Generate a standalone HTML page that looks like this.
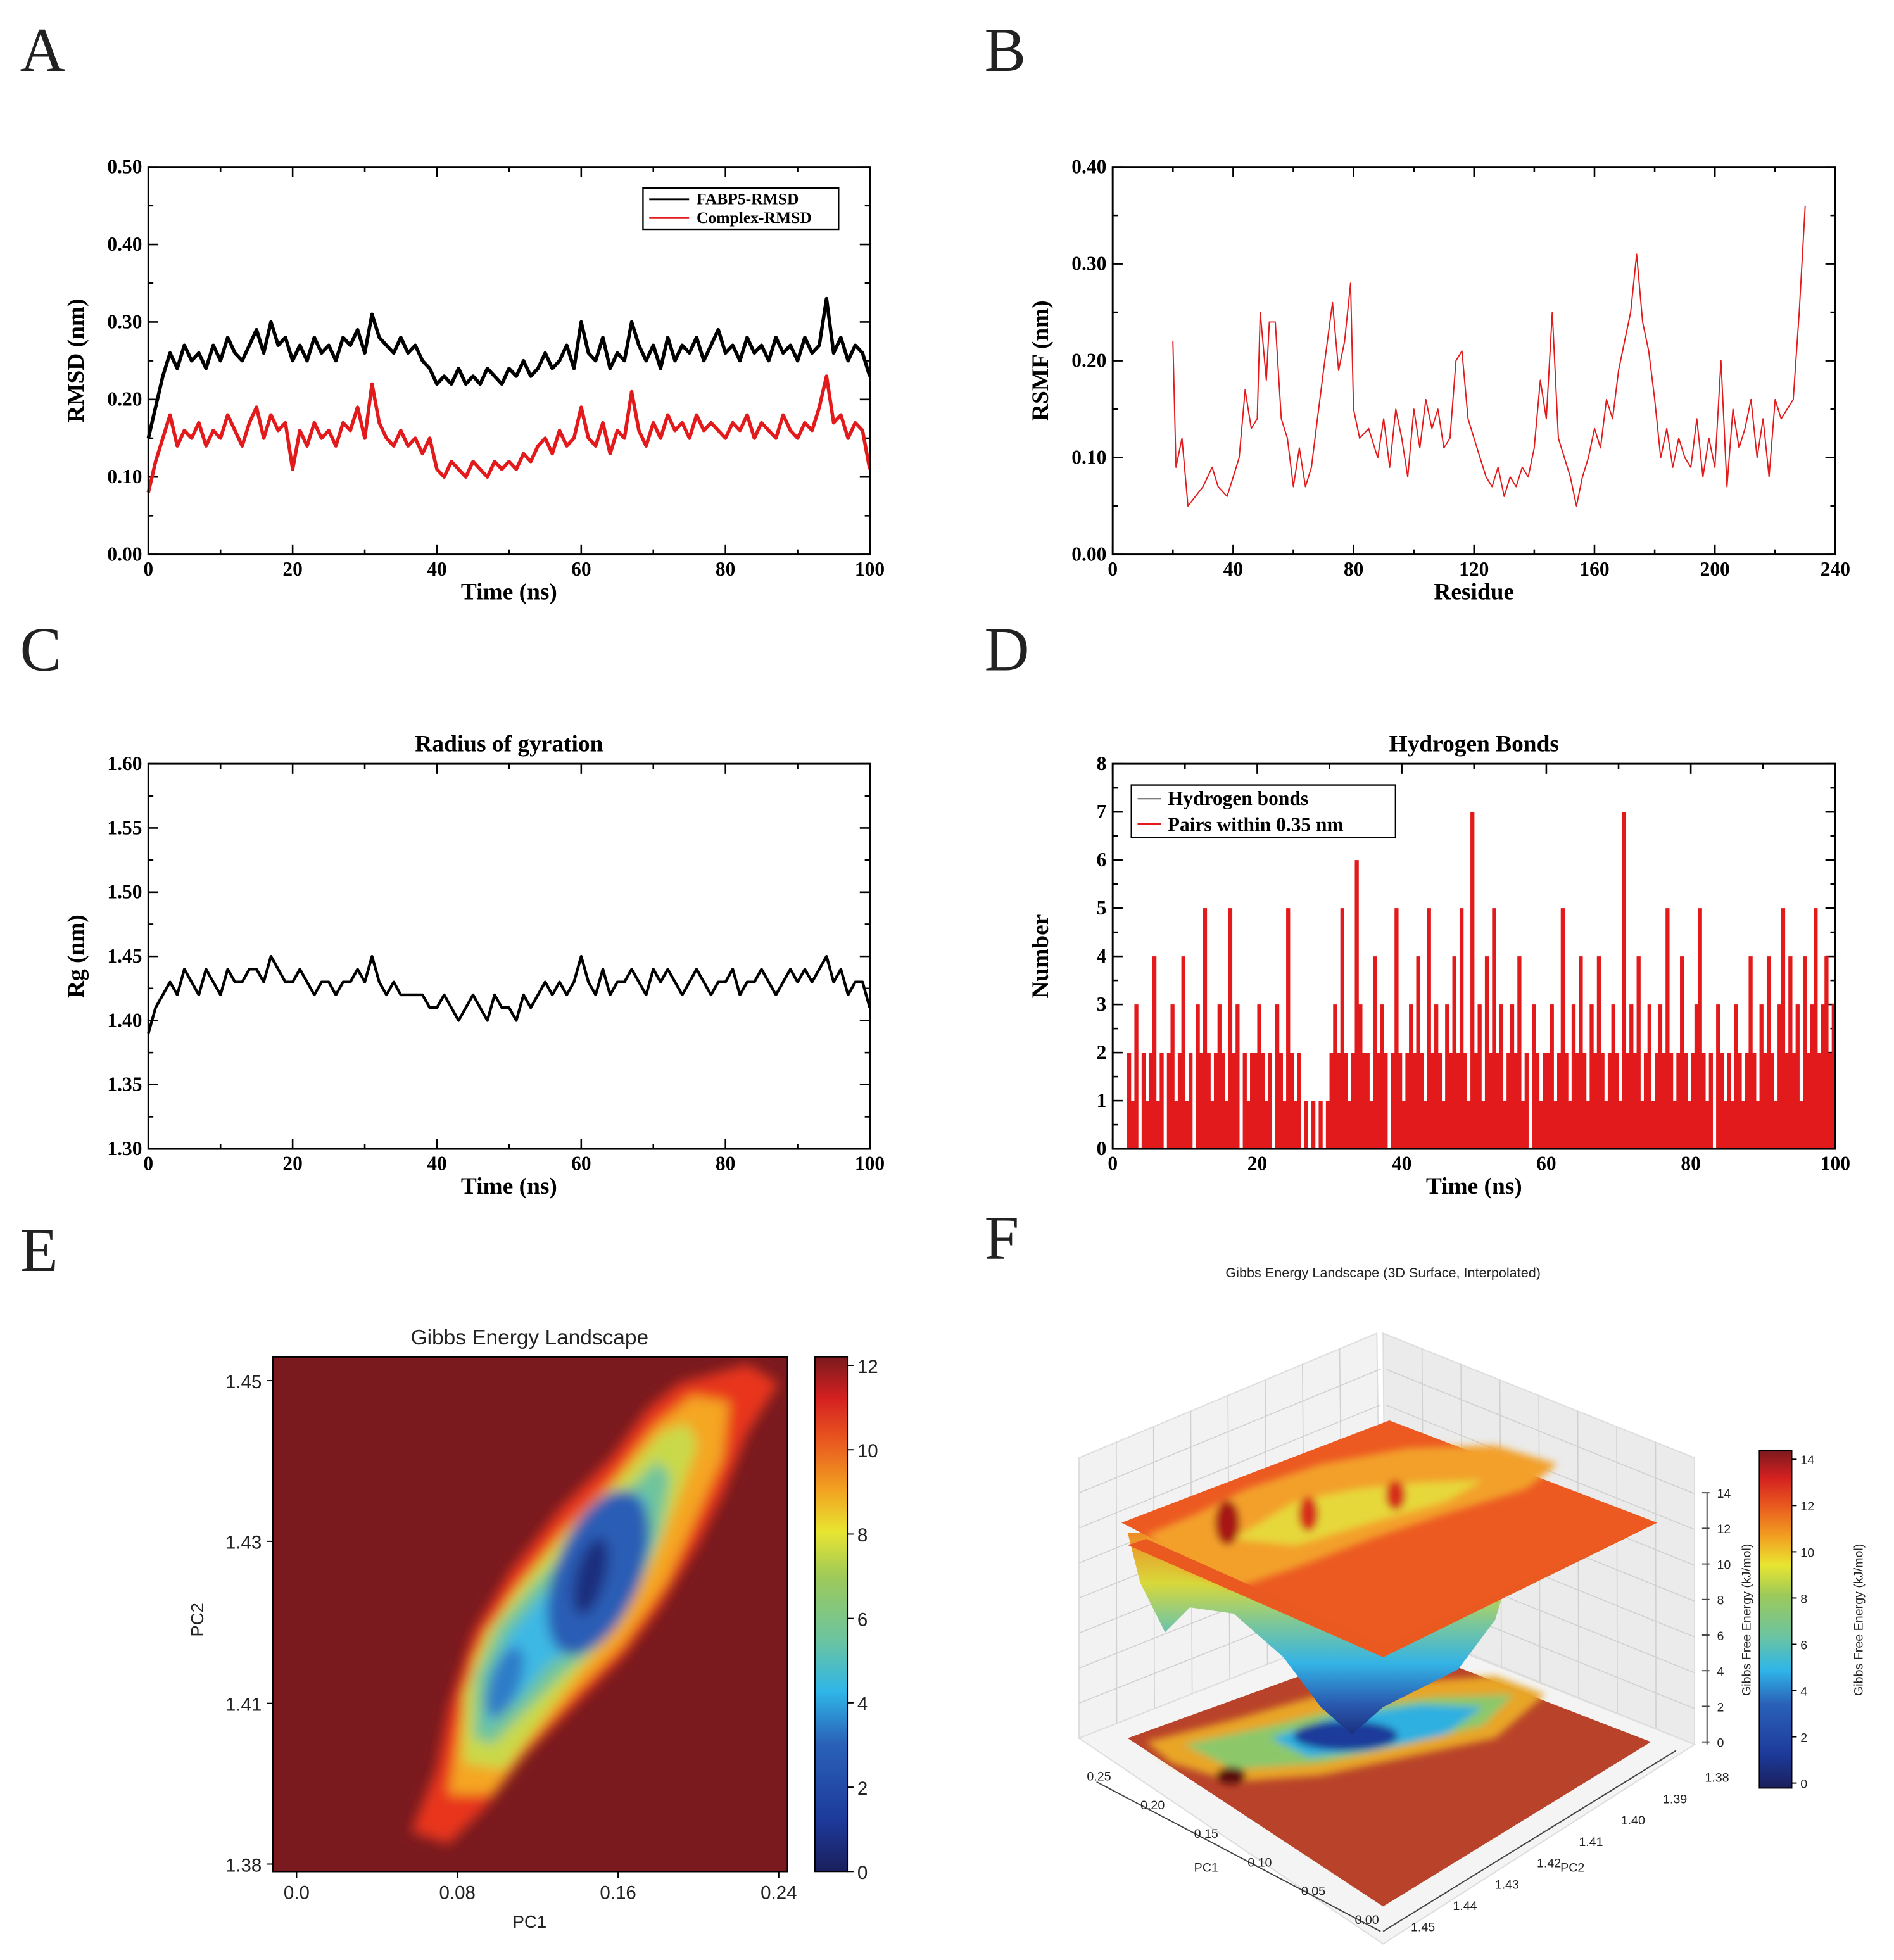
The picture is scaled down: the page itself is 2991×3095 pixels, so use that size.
<!DOCTYPE html>
<html><head><meta charset="utf-8"><style>
html,body{margin:0;padding:0;background:#fff;}
svg{display:block;}
.ser{font-family:"Liberation Serif",serif;}
.san{font-family:"Liberation Sans","DejaVu Sans",sans-serif;}
</style></head><body>
<svg id="fig" xmlns="http://www.w3.org/2000/svg" width="2991" height="3095" viewBox="0 0 1520 1573">
<defs>
<linearGradient id="jet" x1="0" y1="1" x2="0" y2="0">
<stop offset="0" stop-color="#1a1f5c"/><stop offset="0.1" stop-color="#1d3a9a"/><stop offset="0.25" stop-color="#2a62b8"/><stop offset="0.35" stop-color="#2fb6e8"/><stop offset="0.45" stop-color="#6cc4a0"/><stop offset="0.57" stop-color="#9cc95a"/><stop offset="0.66" stop-color="#e8e531"/><stop offset="0.74" stop-color="#f2a321"/><stop offset="0.84" stop-color="#e8561f"/><stop offset="0.92" stop-color="#d42020"/><stop offset="1" stop-color="#7a1a1e"/>
</linearGradient>
<linearGradient id="funnel" x1="0" y1="0" x2="0" y2="1">
<stop offset="0" stop-color="#f08a24"/><stop offset="0.25" stop-color="#d8d83a"/><stop offset="0.45" stop-color="#7cc79a"/><stop offset="0.65" stop-color="#33b3e6"/><stop offset="0.85" stop-color="#2a5ab0"/><stop offset="1" stop-color="#1b2f80"/>
</linearGradient>
<filter id="bl" x="-20%" y="-20%" width="140%" height="140%"><feGaussianBlur stdDeviation="5"/></filter>
<filter id="bl2" x="-20%" y="-20%" width="140%" height="140%"><feGaussianBlur stdDeviation="3"/></filter>
<clipPath id="clipE"><rect x="219" y="1089" width="413" height="413"/></clipPath>
</defs>
<g class="ser" font-size="50" fill="#222">
<text x="16" y="57">A</text>
<text x="790" y="57">B</text>
<text x="16" y="538">C</text>
<text x="790" y="538">D</text>
<text x="16" y="1020">E</text>
<text x="790" y="1010">F</text>
</g>
<g id="layer"></g>
</svg>
<script>
// ---- data ----
const timeA = Array.from({length:101},(_, i)=>i);
const fabp5Rmsd = [0.15,0.19,0.23,0.26,0.24,0.27,0.25,0.26,0.24,0.27,
0.25,0.28,0.26,0.25,0.27,0.29,0.26,0.30,0.27,0.28,
0.25,0.27,0.25,0.28,0.26,0.27,0.25,0.28,0.27,0.29,
0.26,0.31,0.28,0.27,0.26,0.28,0.26,0.27,0.25,0.24,
0.22,0.23,0.22,0.24,0.22,0.23,0.22,0.24,0.23,0.22,
0.24,0.23,0.25,0.23,0.24,0.26,0.24,0.25,0.27,0.24,
0.30,0.26,0.25,0.28,0.24,0.26,0.25,0.30,0.27,0.25,
0.27,0.24,0.28,0.25,0.27,0.26,0.28,0.25,0.27,0.29,
0.26,0.27,0.25,0.28,0.26,0.27,0.25,0.28,0.26,0.27,
0.25,0.28,0.26,0.27,0.33,0.26,0.28,0.25,0.27,0.26,0.23];
const complexRmsd = [0.08,0.12,0.15,0.18,0.14,0.16,0.15,0.17,0.14,0.16,
0.15,0.18,0.16,0.14,0.17,0.19,0.15,0.18,0.16,0.17,
0.11,0.16,0.14,0.17,0.15,0.16,0.14,0.17,0.16,0.19,
0.15,0.22,0.17,0.15,0.14,0.16,0.14,0.15,0.13,0.15,
0.11,0.10,0.12,0.11,0.10,0.12,0.11,0.10,0.12,0.11,
0.12,0.11,0.13,0.12,0.14,0.15,0.13,0.16,0.14,0.15,
0.19,0.15,0.14,0.17,0.13,0.16,0.15,0.21,0.16,0.14,
0.17,0.15,0.18,0.16,0.17,0.15,0.18,0.16,0.17,0.16,
0.15,0.17,0.16,0.18,0.15,0.17,0.16,0.15,0.18,0.16,
0.15,0.17,0.16,0.19,0.23,0.17,0.18,0.15,0.17,0.16,0.11];
const residues = [20,21,23,25,30,33,35,38,40,42,44,46,48,49,51,52,54,56,58,60,62,64,66,68,70,73,75,77,79,80,82,85,88,90,92,94,96,98,100,102,104,106,108,110,112,114,116,118,120,122,124,126,128,130,132,134,136,138,140,142,144,146,148,150,152,154,156,158,160,162,164,166,168,170,172,174,176,178,180,182,184,186,188,190,192,194,196,198,200,202,204,206,208,210,212,214,216,218,220,222,224,226,228,230];
const rmsf = [0.22,0.09,0.12,0.05,0.07,0.09,0.07,0.06,0.08,0.10,0.17,0.13,0.14,0.25,0.18,0.24,0.24,0.14,0.12,0.07,0.11,0.07,0.09,0.14,0.19,0.26,0.19,0.22,0.28,0.15,0.12,0.13,0.10,0.14,0.09,0.15,0.12,0.08,0.15,0.11,0.16,0.13,0.15,0.11,0.12,0.20,0.21,0.14,0.12,0.10,0.08,0.07,0.09,0.06,0.08,0.07,0.09,0.08,0.11,0.18,0.14,0.25,0.12,0.10,0.08,0.05,0.08,0.10,0.13,0.11,0.16,0.14,0.19,0.22,0.25,0.31,0.24,0.21,0.16,0.10,0.13,0.09,0.12,0.10,0.09,0.14,0.08,0.12,0.09,0.20,0.07,0.15,0.11,0.13,0.16,0.10,0.14,0.08,0.16,0.14,0.15,0.16,0.25,0.36];
const rg = [1.39,1.41,1.42,1.43,1.42,1.44,1.43,1.42,1.44,1.43,
1.42,1.44,1.43,1.43,1.44,1.44,1.43,1.45,1.44,1.43,
1.43,1.44,1.43,1.42,1.43,1.43,1.42,1.43,1.43,1.44,
1.43,1.45,1.43,1.42,1.43,1.42,1.42,1.42,1.42,1.41,
1.41,1.42,1.41,1.40,1.41,1.42,1.41,1.40,1.42,1.41,
1.41,1.40,1.42,1.41,1.42,1.43,1.42,1.43,1.42,1.43,
1.45,1.43,1.42,1.44,1.42,1.43,1.43,1.44,1.43,1.42,
1.44,1.43,1.44,1.43,1.42,1.43,1.44,1.43,1.42,1.43,
1.43,1.44,1.42,1.43,1.43,1.44,1.43,1.42,1.43,1.44,
1.43,1.44,1.43,1.44,1.45,1.43,1.44,1.42,1.43,1.43,1.41];
const hbPairs = [0,0,0,0,2,1,3,0,2,1, 2,4,1,2,0,2,3,1,2,4, 1,2,0,3,2,5,2,1,2,3, 2,1,5,2,3,0,2,1,2,2,
3,2,1,2,0,3,2,1,5,2, 1,2,0,1,0,1,0,1,0,1, 2,3,2,5,2,1,2,6,3,2, 2,1,4,2,3,2,0,2,5,2,
1,2,3,2,4,2,1,5,2,3, 2,1,3,2,4,2,5,2,1,7, 2,3,1,4,2,5,2,3,1,2, 3,2,4,1,2,0,3,2,1,2,
2,3,1,2,5,2,1,3,2,4, 2,1,3,2,4,2,1,2,3,2, 1,7,2,3,2,4,1,2,3,1, 2,3,2,5,2,1,2,4,2,1,
2,3,5,2,1,2,0,3,2,1, 2,1,3,2,1,2,4,2,1,3, 2,4,2,1,3,5,2,4,2,3, 1,4,2,3,5,2,3,4,2,3];
const hbTimes = hbPairs.map((_, i)=>i*0.5);
const cbarETicks = [0,2,4,6,8,10,12];
const cbarFTicks = [0,2,4,6,8,10,12,14];
const pc1Ticks = ["0.0","0.08","0.16","0.24"];
const pc2Ticks = ["1.45","1.43","1.41","1.38"];

const NS="http://www.w3.org/2000/svg";
const L=document.getElementById('layer');
function mk(tag, attrs, parent){const e=document.createElementNS(NS,tag);for(const k in attrs)e.setAttribute(k,attrs[k]);(parent||L).appendChild(e);return e;}
function txt(s, attrs, parent){const e=mk('text',attrs,parent);e.textContent=s;return e;}

function panel(cfg){
  const g=mk('g',{});
  
  
  const {x0,x1,y0,y1,xmin,xmax,ymin,ymax}=cfg;
  const sx=v=>x0+(v-xmin)/(xmax-xmin)*(x1-x0);
  const sy=v=>y1-(v-ymin)/(ymax-ymin)*(y1-y0);
  cfg.sx=sx;cfg.sy=sy;cfg.g=g;
  for(let v=xmin; v<=xmax+1e-9; v+=cfg.xminor){
    const maj=Math.abs(((v-xmin)/cfg.xmajor)-Math.round((v-xmin)/cfg.xmajor))<1e-6;
    const len=maj?8:4;
    mk('line',{x1:sx(v),x2:sx(v),y1:y1,y2:y1-len,stroke:'#000','stroke-width':1.3},g);
    mk('line',{x1:sx(v),x2:sx(v),y1:y0,y2:y0+len,stroke:'#000','stroke-width':1.3},g);
    if(maj){const t=txt(cfg.xfmt(v),{x:sx(v),y:y1+17,'text-anchor':'middle','font-size':16,'font-weight':'bold',class:'ser'},g);
      
      }
  }
  for(let v=ymin; v<=ymax+1e-9; v+=cfg.yminor){
    const maj=Math.abs(((v-ymin)/cfg.ymajor)-Math.round((v-ymin)/cfg.ymajor))<1e-6;
    const len=maj?8:4;
    mk('line',{x1:x0,x2:x0+len,y1:sy(v),y2:sy(v),stroke:'#000','stroke-width':1.3},g);
    mk('line',{x1:x1,x2:x1-len,y1:sy(v),y2:sy(v),stroke:'#000','stroke-width':1.3},g);
    if(maj){const t=txt(cfg.yfmt(v),{x:x0-5,y:sy(v)+5,'text-anchor':'end','font-size':16,'font-weight':'bold',class:'ser'},g);
      
      }
  }
  const xt=txt(cfg.xtitle,{x:(x0+x1)/2,y:y1+36,'text-anchor':'middle','font-size':19,'font-weight':'bold',class:'ser'},g);
  
  
  const yt=txt(cfg.ytitle,{x:0,y:0,'text-anchor':'middle','font-size':19,'font-weight':'bold',class:'ser',transform:`translate(${x0-52},${(y0+y1)/2}) rotate(-90)`},g);
  
  
  if(cfg.title){const tt=txt(cfg.title,{x:(x0+x1)/2,y:y0-10,'text-anchor':'middle','font-size':19,'font-weight':'bold',class:'ser'},g);
    
    }
  return cfg;
}
function boxFrame(cfg){const r=mk('rect',{x:cfg.x0,y:cfg.y0,width:cfg.x1-cfg.x0,height:cfg.y1-cfg.y0,fill:'none',stroke:'#000','stroke-width':1.5},cfg.g);
  
  }
function pl(xs,ys,cfg,color,w){return mk('polyline',{points:xs.map((x,i)=>cfg.sx(x).toFixed(1)+','+cfg.sy(ys[i]).toFixed(1)).join(' '),fill:'none',stroke:color,'stroke-width':w,'stroke-linejoin':'round'},cfg.g);}

// Panel A
const A=panel({name:'panel-a-rmsd',x0:119,x1:698,y0:134,y1:445,xmin:0,xmax:100,ymin:0,ymax:0.5,xmajor:20,xminor:10,ymajor:0.1,yminor:0.05,xfmt:v=>Math.round(v),yfmt:v=>v.toFixed(2),xtitle:'Time (ns)',ytitle:'RMSD (nm)'});
const la=pl(timeA,fabp5Rmsd,A,'#000',2.8);


const lb=pl(timeA,complexRmsd,A,'#e31a1c',2.8);


boxFrame(A);
const legA=mk('g',{},A.g);


mk('rect',{x:516,y:151,width:157,height:33,fill:'#fff',stroke:'#000','stroke-width':1.2},legA);
mk('line',{x1:521,x2:553,y1:160,y2:160,stroke:'#000','stroke-width':1.5},legA);
mk('line',{x1:521,x2:553,y1:175,y2:175,stroke:'#e31a1c','stroke-width':1.5},legA);
txt('FABP5-RMSD',{x:559,y:164,'font-size':13,'font-weight':'bold',class:'ser'},legA);
txt('Complex-RMSD',{x:559,y:179,'font-size':13,'font-weight':'bold',class:'ser'},legA);

// Panel B
const B=panel({name:'panel-b-rmsf',x0:893,x1:1473,y0:134,y1:445,xmin:0,xmax:240,ymin:0,ymax:0.4,xmajor:40,xminor:20,ymajor:0.1,yminor:0.05,xfmt:v=>Math.round(v),yfmt:v=>v.toFixed(2),xtitle:'Residue',ytitle:'RSMF (nm)'});
const lr=pl(residues,rmsf,B,'#e31a1c',1);


boxFrame(B);

// Panel C
const C=panel({name:'panel-c-rg',x0:119,x1:698,y0:613,y1:922,xmin:0,xmax:100,ymin:1.3,ymax:1.6,xmajor:20,xminor:10,ymajor:0.05,yminor:0.025,xfmt:v=>Math.round(v),yfmt:v=>v.toFixed(2),xtitle:'Time (ns)',ytitle:'Rg (nm)',title:'Radius of gyration'});
const lg=pl(timeA,rg,C,'#000',2.2);


boxFrame(C);

// Panel D
const D=panel({name:'panel-d-hbonds',x0:893,x1:1473,y0:613,y1:922,xmin:0,xmax:100,ymin:0,ymax:8,xmajor:20,xminor:10,ymajor:1,yminor:0.5,xfmt:v=>Math.round(v),yfmt:v=>Math.round(v),xtitle:'Time (ns)',ytitle:'Number',title:'Hydrogen Bonds'});
hbPairs.forEach((v,i)=>{ if(v<=0) return;
  const x=D.sx(hbTimes[i]); const w=D.sx(0.5)-D.sx(0);
  const r=mk('rect',{x:x,y:D.sy(v),width:w+0.3,height:D.sy(0)-D.sy(v),fill:'#e31a1c'},D.g);
  
  
});
boxFrame(D);
const legD=mk('g',{},D.g);


mk('rect',{x:908,y:630,width:212,height:42,fill:'#fff',stroke:'#000','stroke-width':1.2},legD);
mk('line',{x1:913,x2:932,y1:641,y2:641,stroke:'#555','stroke-width':1},legD);
mk('line',{x1:913,x2:932,y1:661,y2:661,stroke:'#e31a1c','stroke-width':1.5},legD);
txt('Hydrogen bonds',{x:937,y:646,'font-size':16,'font-weight':'bold',class:'ser'},legD);
txt('Pairs within 0.35 nm',{x:937,y:667,'font-size':16,'font-weight':'bold',class:'ser'},legD);

// Panel E heatmap
const E=mk('g',{});


const hm=mk('g',{'clip-path':'url(#clipE)'},E);
mk('rect',{x:219,y:1089,width:413,height:413,fill:'#7a1a1f'},hm);
const hb=mk('g',{filter:'url(#bl)'},hm);
mk('polygon',{points:'330,1470 350,1420 360,1370 380,1310 410,1260 450,1210 490,1170 520,1130 545,1110 600,1095 625,1110 600,1150 580,1200 560,1240 530,1290 500,1330 460,1370 420,1410 390,1450 360,1480',fill:'#e8341d'},hb);
mk('polygon',{points:'360,1440 368,1390 380,1330 410,1280 450,1230 490,1190 525,1145 555,1120 585,1125 580,1170 560,1215 535,1270 500,1320 460,1360 425,1400 395,1440',fill:'#f5a623'},hb);
mk('polygon',{points:'372,1415 372,1360 390,1310 420,1270 455,1230 495,1190 530,1150 552,1142 560,1160 545,1200 525,1250 500,1300 465,1340 435,1380 405,1420',fill:'#c9d94a'},hb);
mk('polygon',{points:'380,1395 382,1345 400,1305 430,1270 465,1235 500,1200 528,1172 538,1185 530,1230 510,1280 480,1320 450,1345 420,1375 395,1400',fill:'#6fc49c'},hb);
mk('polygon',{points:'390,1385 392,1345 410,1310 440,1275 470,1240 500,1208 518,1200 522,1240 505,1280 475,1315 440,1335 415,1365',fill:'#3cb8e4'},hb);
mk('ellipse',{cx:480,cy:1262,rx:34,ry:70,transform:'rotate(22 480 1262)',fill:'#2a5db5'},hb);
mk('ellipse',{cx:405,cy:1350,rx:12,ry:30,transform:'rotate(20 405 1350)',fill:'#2e7cc8'},hb);
mk('ellipse',{cx:474,cy:1265,rx:12,ry:32,transform:'rotate(15 474 1265)',fill:'#1b2e7e'},hb);
mk('rect',{x:219,y:1089,width:413,height:413,fill:'none',stroke:'#000','stroke-width':1.2},E);
const pc1Pos=[238,367,496,625];
pc1Ticks.forEach((s,i)=>{mk('line',{x1:pc1Pos[i],x2:pc1Pos[i],y1:1502,y2:1507,stroke:'#000'},E);
  const t=txt(s,{x:pc1Pos[i],y:1524,'text-anchor':'middle','font-size':15,class:'san',fill:'#222'},E);
  
  });
const pc2Pos=[1108,1237,1367,1496];
pc2Ticks.forEach((s,i)=>{mk('line',{x1:214,x2:219,y1:pc2Pos[i],y2:pc2Pos[i],stroke:'#000'},E);
  const t=txt(s,{x:210,y:pc2Pos[i]+6,'text-anchor':'end','font-size':15,class:'san',fill:'#222'},E);
  
  });
const et=txt('Gibbs Energy Landscape',{x:425,y:1079,'text-anchor':'middle','font-size':17,class:'san',fill:'#222'},E);


const ex=txt('PC1',{x:425,y:1547,'text-anchor':'middle','font-size':14,class:'san',fill:'#222'},E);


const ey=txt('PC2',{x:0,y:0,'text-anchor':'middle','font-size':14,class:'san',fill:'#222',transform:'translate(163,1300) rotate(-90)'},E);


const cbE=mk('rect',{x:654,y:1089,width:26,height:413,fill:'url(#jet)',stroke:'#000','stroke-width':1},E);


cbarETicks.forEach(v=>{const y=1502-v/12.2*413;
  mk('line',{x1:680,x2:685,y1:y,y2:y,stroke:'#000'},E);
  const t=txt(String(v),{x:688,y:y+6,'font-size':15,class:'san',fill:'#222'},E);
  
  });

// Panel F 3D surface
const F=mk('g',{});


const ft=txt('Gibbs Energy Landscape (3D Surface, Interpolated)',{x:1110,y:1025,'text-anchor':'middle','font-size':11,class:'san',fill:'#222'},F);


mk('polygon',{points:'866,1170 1105,1070 1108,1300 866,1395',fill:'#f2f2f2',stroke:'#ddd'},F);
mk('polygon',{points:'1110,1070 1360,1170 1360,1400 1112,1300',fill:'#ebebeb',stroke:'#ddd'},F);
for(let k=1;k<8;k++){const f=k/8;
  mk('line',{x1:866+(1105-866)*f,y1:1170-(100)*f,x2:866+(1108-866)*f,y2:1395-95*f,stroke:'#d0d0d0','stroke-width':0.8},F);
  mk('line',{x1:1110+250*f,y1:1070+100*f,x2:1112+248*f,y2:1300+100*f,stroke:'#d0d0d0','stroke-width':0.8},F);
  mk('line',{x1:866,y1:1395-225*f,x2:1108,y2:1300-230*f,stroke:'#d0d0d0','stroke-width':0.8},F);
  mk('line',{x1:1112,y1:1300-230*f,x2:1360,y2:1400-230*f,stroke:'#d0d0d0','stroke-width':0.8},F);
}
mk('polygon',{points:'866,1395 1108,1300 1360,1400 1110,1560',fill:'#f4f4f4',stroke:'#ddd'},F);
const fl=mk('g',{},F);
mk('polygon',{points:'905,1395 1118,1318 1325,1398 1110,1530',fill:'#b9432a'},fl);
const fb=mk('g',{filter:'url(#bl2)'},fl);
mk('polygon',{points:'920,1398 990,1380 1060,1360 1130,1350 1200,1345 1240,1360 1200,1395 1130,1410 1060,1425 990,1430 940,1415',fill:'#e8a528'},fb);
mk('polygon',{points:'950,1400 1020,1385 1080,1370 1150,1362 1215,1360 1190,1385 1130,1400 1060,1415 990,1420',fill:'#8cc86a'},fb);
mk('polygon',{points:'1020,1395 1070,1378 1140,1368 1190,1370 1160,1392 1100,1405 1050,1410',fill:'#2fb0e0'},fb);
mk('ellipse',{cx:1080,cy:1393,rx:42,ry:12,fill:'#1d3a9a'},fb);
mk('ellipse',{cx:988,cy:1425,rx:12,ry:7,fill:'#5a1010'},fb);
const fn=mk('polygon',{points:'905,1230 915,1270 935,1310 955,1290 990,1295 1030,1330 1060,1370 1085,1392 1110,1370 1140,1355 1170,1340 1200,1300 1215,1250 1100,1230',fill:'url(#funnel)'},F);


mk('polygon',{points:'900,1222 1115,1140 1330,1222 1110,1330',fill:'#ec5a22'},F);
const rg2=mk('g',{filter:'url(#bl2)'},F);
mk('polygon',{points:'920,1232 960,1215 1000,1195 1060,1175 1130,1162 1200,1160 1250,1175 1225,1195 1160,1215 1100,1235 1040,1258 990,1275 950,1260',fill:'#f3a02a'},rg2);
mk('polygon',{points:'990,1235 1040,1205 1090,1195 1140,1190 1190,1188 1160,1205 1100,1222 1040,1240',fill:'#e6d83a'},rg2);
mk('ellipse',{cx:985,cy:1222,rx:10,ry:18,fill:'#a81818'},rg2);
mk('ellipse',{cx:1050,cy:1215,rx:8,ry:14,fill:'#d62e1e'},rg2);
mk('ellipse',{cx:1120,cy:1200,rx:8,ry:12,fill:'#d62e1e'},rg2);
mk('polygon',{points:'905,1240 1110,1330 1330,1222 1320,1226 1110,1320 920,1235',fill:'#ea5a20'},F);
mk('line',{x1:880,y1:1430,x2:1108,y2:1550,stroke:'#444'},F);
mk('line',{x1:1110,y1:1550,x2:1345,y2:1405,stroke:'#444'},F);
mk('line',{x1:1370,y1:1198,x2:1370,y2:1400,stroke:'#444'},F);
const pc1F=["0.25","0.20","0.15","0.10","0.05","0.00"];
pc1F.forEach((s,i)=>{const x=880+i*(1095-880)/5, y=1430+i*(1545-1430)/5;
  const t=txt(s,{x:x+2,y:y-1,'text-anchor':'middle','font-size':10,class:'san',fill:'#222'},F);
  
  });
const pc2F=["1.45","1.44","1.43","1.42","1.41","1.40","1.39","1.38"];
pc2F.forEach((s,i)=>{const x=1142+i*(1378-1142)/7, y=1550-i*(1550-1430)/7;
  const t=txt(s,{x:x,y:y,'text-anchor':'middle','font-size':10,class:'san',fill:'#222'},F);
  
  });
txt('PC1',{x:968,y:1502,'text-anchor':'middle','font-size':10,class:'san',fill:'#222'},F);
txt('PC2',{x:1262,y:1502,'text-anchor':'middle','font-size':10,class:'san',fill:'#222'},F);
cbarFTicks.forEach(v=>{const y=1398-v/14*200;
  mk('line',{x1:1366,x2:1372,y1:y,y2:y,stroke:'#444'},F);
  const t=txt(String(v),{x:1378,y:y+4,'font-size':10,class:'san',fill:'#222'},F);
  
  });
txt('Gibbs Free Energy (kJ/mol)',{x:0,y:0,'text-anchor':'middle','font-size':10,class:'san',fill:'#222',transform:'translate(1405,1300) rotate(-90)'},F);
const cbF=mk('rect',{x:1412,y:1164,width:26,height:271,fill:'url(#jet)',stroke:'#000','stroke-width':1},F);


cbarFTicks.forEach(v=>{const y=1431-v/14.6*271;
  mk('line',{x1:1438,x2:1442,y1:y,y2:y,stroke:'#000'},F);
  const t=txt(String(v),{x:1445,y:y+4,'font-size':10,class:'san',fill:'#222'},F);
  
  });
txt('Gibbs Free Energy (kJ/mol)',{x:0,y:0,'text-anchor':'middle','font-size':10,class:'san',fill:'#222',transform:'translate(1495,1300) rotate(-90)'},F);
</script>
</body></html>
